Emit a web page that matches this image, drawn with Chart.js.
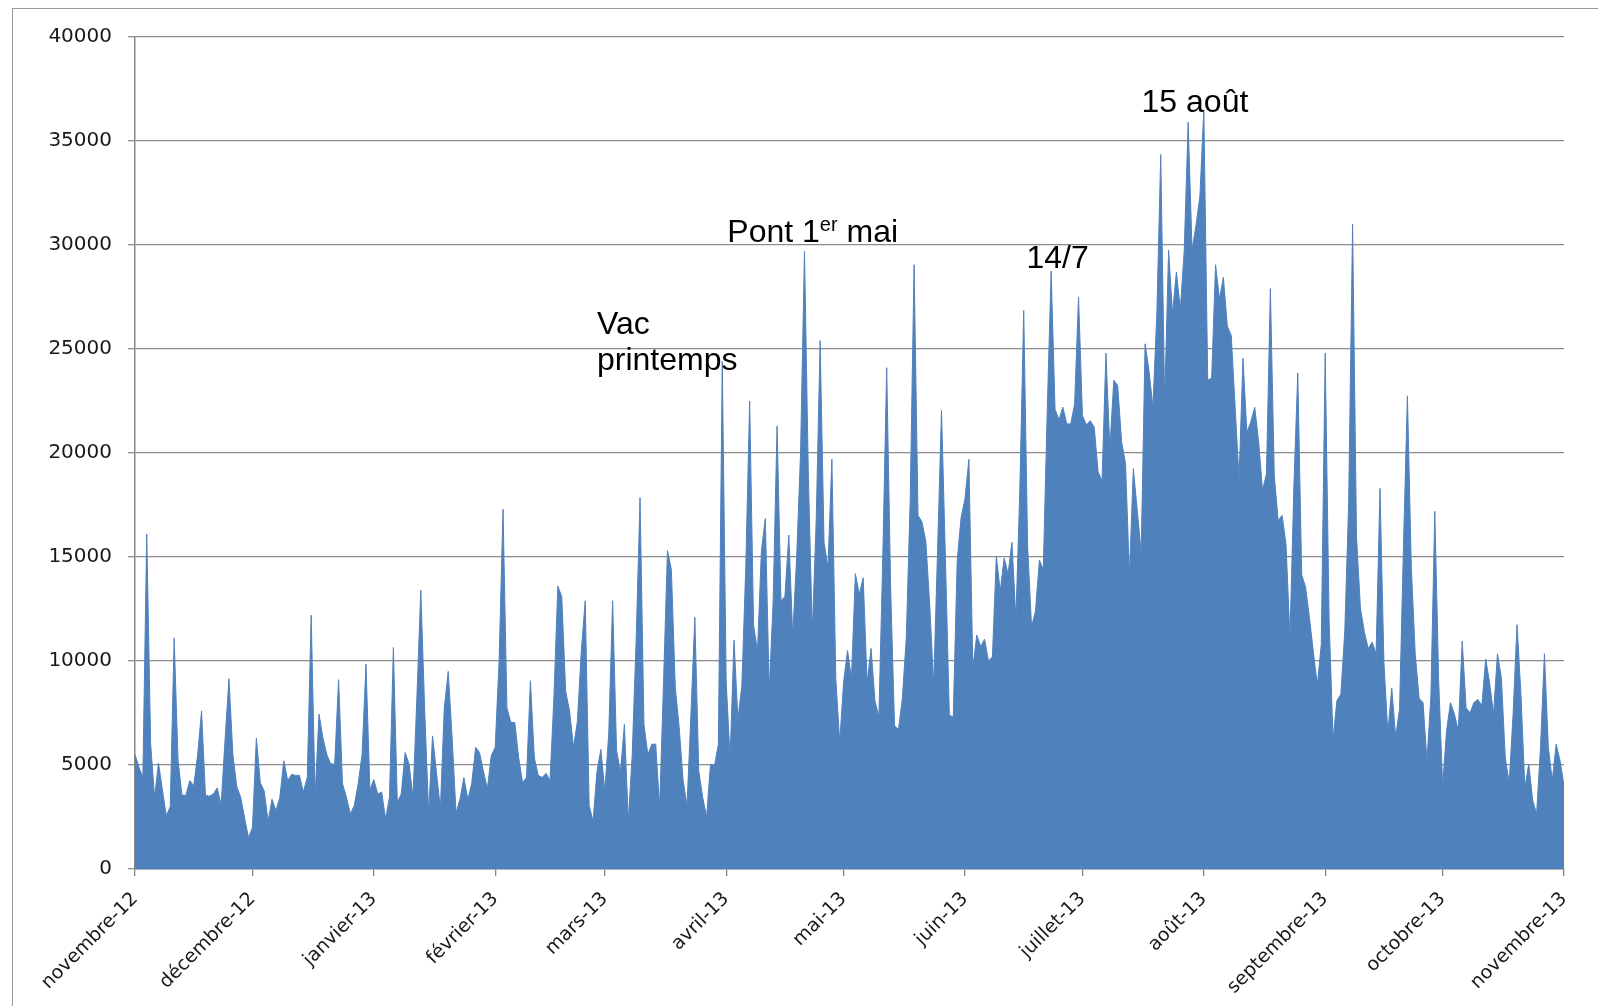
<!DOCTYPE html>
<html>
<head>
<meta charset="utf-8">
<script src="https://cdn.jsdelivr.net/npm/chart.js@4.4.1/dist/chart.umd.min.js"></script>
<style>
    html, body { margin: 0; padding: 0; background: #fff; }
    #wrap { position: relative; width: 1598px; height: 1006px; overflow: hidden; }
    #frame {
        position: absolute; left: 12px; top: 8px; width: 1700px; height: 1100px;
        border-top: 1px solid #9a9a9a; border-left: 1px solid #9a9a9a;
    }
    canvas { position: absolute; left: 0; top: 0; }
</style>
</head>
<body>
<div id="wrap">
    <div id="frame"></div>
    <canvas id="visitesChart" width="1598" height="1006"></canvas>
</div>
<script>
// Visites journalières, 1er novembre 2012 -> 1er novembre 2013 (une valeur par jour)
const nov12 = [5500, 4900, 4400, 16100, 6000, 3450, 5100, 3800, 2560, 3000,
    11100, 5200, 3550, 3550, 4250, 4000, 5500, 7600, 3550, 3500,
    3600, 3900, 3100, 6200, 9150, 5500, 3950, 3450, 2450, 1500];
const dec12 = [2000, 6300, 4150, 3750, 2300, 3350, 2800, 3450, 5200, 4250,
    4550, 4500, 4500, 3700, 4400, 12200, 3500, 7450, 6300, 5500,
    5050, 5050, 9100, 4100, 3450, 2650, 3050, 4100, 5500, 9850, 3800];
const jan13 = [4300, 3600, 3700, 2400, 3450, 10650, 3200, 3600, 5600, 5050,
    3450, 8250, 13400, 7600, 2700, 6400, 4650, 2900, 7750, 9500,
    6300, 2700, 3350, 4400, 3350, 4100, 5850, 5600, 4700, 3850, 5450];
const fev13 = [5850, 10000, 17300, 7750, 7050, 7050, 5350, 4150, 4400, 9050,
    5350, 4500, 4400, 4600, 4250, 8250, 13600, 13100, 8550, 7600,
    5850, 7100, 10500, 12900, 3050, 2300, 4700, 5750];
const mar13 = [3750, 6500, 12900, 5700, 4650, 6950, 2300, 5500, 11000, 17850,
    6950, 5500, 6000, 6000, 2950, 9000, 15300, 14400, 8750, 6800,
    4250, 3050, 7450, 12100, 4700, 3450, 2500, 5050, 4950, 6000, 24400];
const avr13 = [9000, 5300, 11000, 7200, 8800, 14500, 22500, 11700, 10500, 15300,
    16850, 8550, 12900, 21300, 12900, 13100, 16050, 11200, 15000, 20000,
    29700, 18800, 11400, 16800, 25400, 15700, 14500, 19700, 9150, 6100];
const mai13 = [9000, 10500, 9150, 14200, 13200, 14000, 8950, 10600, 8100, 7300,
    15000, 24100, 13600, 6900, 6700, 8200, 11100, 17700, 29050, 17000,
    16700, 15750, 12650, 8850, 15350, 22050, 14950, 7400, 7300, 14800, 16900];
const jun13 = [17800, 19700, 9650, 11250, 10700, 11050, 10000, 10200, 15050, 13350,
    14950, 14200, 15700, 12000, 18200, 26850, 15500, 11650, 12400, 14850,
    14400, 22000, 28750, 22100, 21600, 22200, 21400, 21400, 22350, 27500];
const jul13 = [21800, 21350, 21550, 21250, 19100, 18650, 24800, 20200, 23500, 23250,
    20550, 19500, 14150, 19250, 17250, 15200, 25250, 23950, 22200, 26700,
    34350, 22450, 29750, 26700, 28700, 26900, 29750, 35900, 29750, 30950, 32350];
const aou13 = [36500, 23500, 23600, 29050, 27400, 28450, 26100, 25650, 22200, 18750,
    24550, 21000, 21500, 22200, 20550, 18200, 19000, 27900, 18900, 16750,
    17000, 15600, 11100, 18400, 23850, 14150, 13550, 12050, 10400, 8850, 10800];
const sep13 = [24800, 12000, 6250, 8100, 8400, 11400, 17600, 31000, 16000, 12550,
    11400, 10600, 10900, 10350, 18300, 9950, 6550, 8700, 6350, 7700,
    15550, 22750, 14500, 10350, 8200, 8000, 5200, 8300, 17200, 9000];
const oct13 = [4000, 6650, 8000, 7450, 6650, 10950, 7750, 7500, 8000, 8150,
    7850, 10100, 8950, 7450, 10350, 9200, 5350, 4150, 7450, 11750,
    8400, 3900, 5050, 3300, 2650, 5850, 10350, 5850, 4250, 6000, 5200];
const nov13 = [4000];

const moisLabels = ["novembre-12", "décembre-12", "janvier-13", "février-13", "mars-13",
    "avril-13", "mai-13", "juin-13", "juillet-13", "août-13", "septembre-13",
    "octobre-13", "novembre-13"];
const yTicks = [0, 5000, 10000, 15000, 20000, 25000, 30000, 35000, 40000];

// Annotations: texte, jour, valeur (ancrage de la ligne de base)
const notes = [
    { parts: [["Vac", false]], day: 118, value: 25700 },
    { parts: [["printemps", false]], day: 118, value: 24000 },
    { parts: [["Pont 1", false], ["er", true], [" mai", false]], day: 151.3, value: 30150 },
    { parts: [["14/7", false]], day: 227.7, value: 28900 },
    { parts: [["15 août", false]], day: 257.1, value: 36400 },
];

const mois = [nov12, dec12, jan13, fev13, mar13, avr13, mai13, jun13, jul13, aou13, sep13, oct13, nov13];
const visites = [].concat(...mois);
const debutsMois = [];
let cumul = 0;
mois.forEach((m) => {
    debutsMois.push(cumul);
    cumul += m.length;
});

// Draw the free text annotations
const notesPlugin = {
    id: "notes",
    afterDatasetsDraw(chart) {
        const { ctx, scales } = chart;
        ctx.save();
        ctx.fillStyle = "#000";
        ctx.textBaseline = "alphabetic";
        ctx.textAlign = "left";
        notes.forEach((n) => {
            let x = scales.x.getPixelForValue(n.day);
            const y = scales.y.getPixelForValue(n.value);
            n.parts.forEach(([t, sup]) => {
                ctx.font = (sup ? "20px" : "32px") + " 'Liberation Sans', Arial, sans-serif";
                ctx.fillText(t, x, sup ? y - 11 : y);
                x += ctx.measureText(t).width;
            });
        });
        ctx.restore();
    },
};

new Chart(document.getElementById("visitesChart"), {
    type: "line",
    data: {
        datasets: [
            {
                data: visites.map((v, i) => ({ x: i, y: v })),
                backgroundColor: "#4f81bd",
                borderColor: "#4f81bd",
                borderWidth: 1,
                pointRadius: 0,
                fill: "origin",
                tension: 0,
            },
        ],
    },
    options: {
        responsive: false,
        animation: false,
        layout: { padding: { top: 37, right: 34, left: 0, bottom: 0 } },
        plugins: {
            legend: { display: false },
            tooltip: { enabled: false },
        },
        scales: {
            x: {
                type: "linear",
                min: 0,
                max: visites.length - 1,
                afterBuildTicks: (axis) => {
                    axis.ticks = debutsMois.map((v) => ({ value: v }));
                },
                afterFit: (axis) => {
                    axis.height = 137;
                },
                ticks: {
                    autoSkip: false,
                    maxRotation: 45,
                    minRotation: 45,
                    padding: 12,
                    color: "#1a1a1a",
                    font: { family: "'DejaVu Sans', sans-serif", size: 19 },
                    callback: (v) => moisLabels[debutsMois.indexOf(v)],
                },
                grid: {
                    drawOnChartArea: false,
                    drawTicks: true,
                    tickLength: 7,
                    color: "#868686",
                    lineWidth: 1.3,
                },
                border: { color: "#868686", width: 1.5 },
            },
            y: {
                min: 0,
                max: 40000,
                afterBuildTicks: (axis) => {
                    axis.ticks = yTicks.map((v) => ({ value: v }));
                },
                afterFit: (axis) => {
                    axis.width = 135;
                },
                ticks: {
                    padding: 16,
                    color: "#1a1a1a",
                    font: { family: "'DejaVu Sans', sans-serif", size: 20 },
                    callback: (v) => String(v),
                },
                grid: {
                    color: "#8c8c8c",
                    lineWidth: 1.3,
                    tickLength: 7,
                },
                border: { color: "#868686", width: 1.5 },
            },
        },
    },
    plugins: [notesPlugin],
});
</script>
</body>
</html>
